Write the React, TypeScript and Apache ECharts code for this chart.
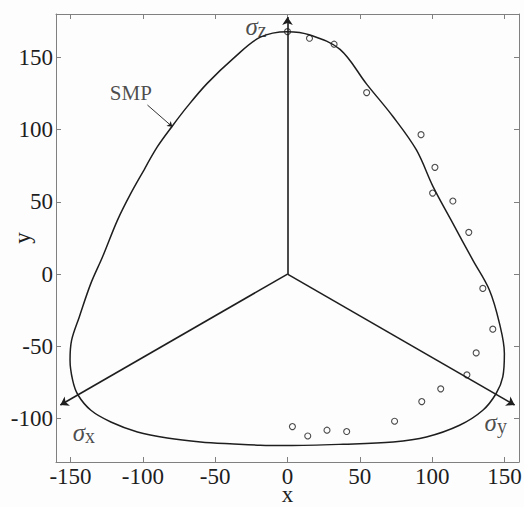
import React, { useEffect, useRef } from "react";
import * as echarts from "echarts";

// Tick labels
const xTicks = [-150, -100, -50, 0, 50, 100, 150];
const yTicks = [-100, -50, 0, 50, 100, 150];

// SMP curve: left branch (top to bottom)
const smpLeft: [number, number][] = [
  [0, 167.8], [-18.8, 164], [-37.2, 149.5], [-55.5, 132], [-69.3, 115.9],
  [-79.6, 102.5], [-89.9, 88.2], [-99.2, 72], [-108.3, 55.9], [-117.5, 37.4],
  [-127.8, 12], [-135.9, -6.4], [-143.9, -29.6], [-149.2, -45.7], [-150.3, -59.6],
  [-148.5, -73.4], [-145, -83.3], [-135.9, -94.2], [-122.1, -102.3], [-103.7, -109.2],
  [-83.1, -113.4], [-60.1, -116.1], [-37.1, -117.5], [-18.8, -118.4], [0, -118.6],
];
// right branch (top to bottom)
const smpRight: [number, number][] = [
  [0, 167.8], [15.6, 165.5], [36.3, 155.5], [54.7, 131.5], [73, 108.9],
  [89.1, 85.9], [100.6, 60.5], [114.3, 35.1], [128.1, 9.7], [139.6, -11.1],
  [146.5, -34.1], [149.9, -54.9], [148.8, -71.1], [144.2, -82.6], [135, -94.2],
  [118.9, -104.6], [96, -112.7], [73, -116.1], [38.6, -117.7], [0, -118.6],
];

// Test data (circles)
const testPoints: [number, number][] = [
  [0, 167.8], [15.2, 163.2], [32.2, 159.1], [54.7, 125.6], [92.3, 96.5],
  [101.9, 73.9], [100.3, 56.1], [114.3, 50.6], [125.3, 28.9], [135, -9.9],
  [141.9, -38.1], [130.4, -54.5], [124, -69.7], [105.9, -79.4], [92.8, -88.2],
  [74, -101.8], [3.4, -105.5], [14, -112], [27.3, -108], [40.9, -108.9],
];

// Principal stress axes (origin to arrow tip)
const axisNames = ["z", "x", "y"];
const axisTips: [number, number][] = [[0, 178], [-157, -90.6], [157, -90.6]];
const axisLabelPos: [number, number][] = [[-29.1, 171.3], [-148.5, -109.8], [136.2, -102.8]];

// SMP annotation
const smpLabel = "SMP";
const smpLabelPos: [number, number] = [-108.3, 125.1];
const smpArrow: [number, number][] = [[-96.8, 117], [-79.6, 102]];

const FONT = "Liberation Serif";
const INK = "#1e1e1e";
const BOX = "#808080";

export default function App() {
  const ref = useRef<HTMLDivElement>(null);
  useEffect(() => {
    if (!ref.current) return;
    const chart = echarts.init(ref.current, undefined, { renderer: "svg" });

    const k = 7;
    const loop: [number, number][] = [
      ...smpLeft.slice(k),
      ...smpRight.slice(0, smpRight.length - 1).reverse(),
      ...smpLeft.slice(1, k + 1),
    ];

    const boxAxis = {
      axisLine: { show: true, onZero: false, lineStyle: { color: BOX, width: 1 } },
      splitLine: { show: false },
      nameMoveOverlap: false,
    };
    const tick = (vals: number[]) => ({
      show: true, inside: true, length: 5, customValues: vals, lineStyle: { color: BOX },
    });

    chart.setOption({
      animation: false,
      backgroundColor: "#fdfdfd",
      grid: { left: 56, top: 14, right: 5, bottom: 45, containLabel: false, outerBoundsMode: "none" },
      xAxis: [
        {
          ...boxAxis,
          type: "value", min: -160, max: 160, position: "bottom",
          name: "x", nameLocation: "middle", nameGap: 25,
          nameTextStyle: { fontFamily: FONT, fontSize: 23, color: INK, lineHeight: 14 },
          axisTick: tick(xTicks),
          axisLabel: { show: true, customValues: xTicks, margin: 6, fontFamily: FONT, fontSize: 23, color: INK, lineHeight: 16 },
        },
        {
          ...boxAxis,
          type: "value", min: -160, max: 160, position: "top",
          axisTick: tick(xTicks),
          axisLabel: { show: false },
        },
      ],
      yAxis: [
        {
          ...boxAxis,
          type: "value", min: -130, max: 180, position: "left",
          name: "y", nameLocation: "middle", nameGap: 22, nameRotate: 90,
          nameTextStyle: { fontFamily: FONT, fontSize: 23, color: INK },
          axisTick: tick(yTicks),
          axisLabel: { show: true, customValues: yTicks, margin: 3, fontFamily: FONT, fontSize: 23, color: INK },
        },
        {
          ...boxAxis,
          type: "value", min: -130, max: 180, position: "right",
          axisTick: tick(yTicks),
          axisLabel: { show: false },
        },
      ],
      series: [
        {
          name: "SMP",
          type: "line",
          data: loop,
          smooth: 0.35,
          showSymbol: false,
          symbol: "none",
          lineStyle: { color: INK, width: 1.5 },
          silent: true,
        },
        {
          name: "axes",
          type: "lines",
          coordinateSystem: "cartesian2d",
          data: axisTips.map((t) => ({ coords: [[0, 0], t] })),
          symbol: ["none", "arrow"],
          symbolSize: [0, 8],
          lineStyle: { color: INK, width: 1.6, opacity: 1 },
          silent: true,
        },
        {
          name: "smpArrow",
          type: "lines",
          coordinateSystem: "cartesian2d",
          data: [{ coords: smpArrow }],
          symbol: ["none", "arrow"],
          symbolSize: [0, 5],
          lineStyle: { color: INK, width: 0.9, opacity: 1 },
          silent: true,
        },
        {
          name: "test",
          type: "scatter",
          data: testPoints,
          symbol: "circle",
          symbolSize: 6,
          itemStyle: { color: "rgba(0,0,0,0)", borderColor: INK, borderWidth: 1.1 },
          silent: true,
        },
        {
          name: "labels",
          type: "scatter",
          symbolSize: 0,
          silent: true,
          data: axisLabelPos.map((p, i) => ({
            value: p,
            label: {
              show: true,
              position: "right",
              distance: 0,
              formatter: `{s|σ}{b|${axisNames[i]}}`,
              rich: {
                s: { fontFamily: FONT, fontStyle: "italic", fontSize: 25, color: INK, lineHeight: 26 },
                b: { fontFamily: FONT, fontSize: 20, color: INK, lineHeight: 8, verticalAlign: "bottom" },
              },
            },
          })).concat([
            {
              value: smpLabelPos,
              label: {
                show: true,
                position: "inside",
                formatter: smpLabel,
                fontFamily: FONT,
                fontSize: 21,
                color: INK,
              } as any,
            },
          ]),
        },
      ],
    });
    return () => chart.dispose();
  }, []);
  return <div ref={ref} style={{ position: "fixed", left: 0, top: 0, width: 524, height: 507 }} />;
}
